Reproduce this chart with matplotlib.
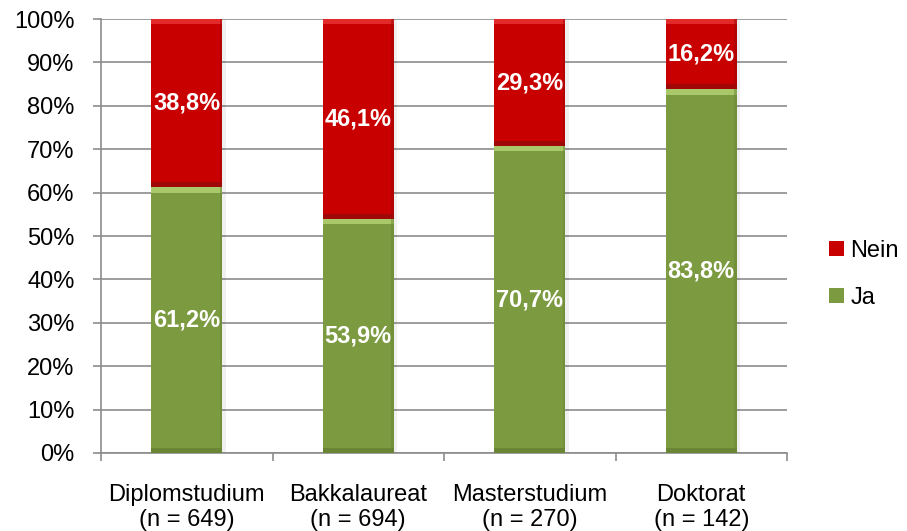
import numpy as np
import matplotlib.pyplot as plt
from matplotlib.ticker import FixedLocator, NullFormatter

plt.rcParams['font.family'] = ['Liberation Sans', 'DejaVu Sans']

categories = ['Diplomstudium', 'Bakkalaureat', 'Masterstudium', 'Doktorat']
sample_sizes = [649, 694, 270, 142]
ja = [61.2, 53.9, 70.7, 83.8]
nein = [38.8, 46.1, 29.3, 16.2]

RED = '#C80000'
RED_LIGHT = '#E22A2A'
RED_DARK = '#A00808'
GREEN = '#7C9A40'
GREEN_LIGHT = '#A9C86A'
GREEN_DARK = '#6A8534'
GRID = '#8C8C8C'
FS = 17

fig = plt.figure(figsize=(9.07, 5.31), dpi=100)
ax = fig.add_axes([0.1114, 0.1469, 0.7563, 0.8173])

x = np.arange(len(categories))
width = 0.415
bevel = 1.2  # height of the bevel strips in percent


def bevel_bar(bottom, height, main, light, dark, label):
    bottom = np.asarray(bottom, dtype=float)
    height = np.asarray(height, dtype=float)
    top = bottom + height
    # soft drop shadow on the right
    ax.bar(x + 0.02, height, width, bottom=bottom - 0.3,
           color='#000000', alpha=0.06, zorder=2, linewidth=0)
    ax.bar(x, height, width, bottom=bottom, color=main, zorder=3,
           linewidth=0, label=label)
    ax.bar(x, bevel, width, bottom=top - bevel, color=light, zorder=4, linewidth=0)
    ax.bar(x, bevel, width, bottom=bottom, color=dark, zorder=4, linewidth=0)
    ax.bar(x + width / 2 - 0.008, height, 0.016, bottom=bottom,
           color=dark, alpha=0.5, zorder=4, linewidth=0)


bevel_bar(np.zeros(len(ja)), ja, GREEN, GREEN_LIGHT, GREEN_DARK, 'Ja')
bevel_bar(ja, nein, RED, RED_LIGHT, RED_DARK, 'Nein')

for i in range(len(categories)):
    ax.text(x[i], ja[i] / 2, f'{ja[i]:.1f}%'.replace('.', ','), ha='center',
            va='center', color='white', fontsize=FS, fontweight='bold', zorder=6)
    ax.text(x[i], ja[i] + nein[i] / 2, f'{nein[i]:.1f}%'.replace('.', ','),
            ha='center', va='center', color='white', fontsize=FS,
            fontweight='bold', zorder=6)

ax.set_xlim(-0.5, len(categories) - 0.5)
ax.set_ylim(0, 100)
ax.set_yticks(np.arange(0, 101, 10))
ax.set_yticklabels([f'{v}%' for v in range(0, 101, 10)])
ax.yaxis.grid(True, color=GRID, linewidth=1.2, zorder=0)
ax.set_axisbelow(True)

ax.xaxis.set_major_locator(FixedLocator(np.arange(-0.5, len(categories), 1.0)))
ax.xaxis.set_major_formatter(NullFormatter())
ax.xaxis.set_minor_locator(FixedLocator(x))
ax.set_xticklabels([f'{c}\n(n = {n})' for c, n in zip(categories, sample_sizes)],
                   minor=True)
ax.tick_params(axis='x', which='major', length=6, width=1.2, color=GRID)
ax.tick_params(axis='x', which='minor', length=0, pad=22, labelsize=FS)
ax.tick_params(axis='y', length=6, width=1.2, color=GRID, labelsize=FS, pad=13)

for side in ['top', 'right']:
    ax.spines[side].set_visible(False)
for side in ['left', 'bottom']:
    ax.spines[side].set_color(GRID)
    ax.spines[side].set_linewidth(1.2)

handles, labels = ax.get_legend_handles_labels()
leg = fig.legend(handles[::-1], labels[::-1], loc='center left',
                 bbox_to_anchor=(0.904, 0.483), frameon=False, fontsize=FS,
                 handlelength=0.6, handleheight=0.6, handletextpad=0.3,
                 labelspacing=1.05, borderaxespad=0)

fig.savefig('out.png', dpi=100)
